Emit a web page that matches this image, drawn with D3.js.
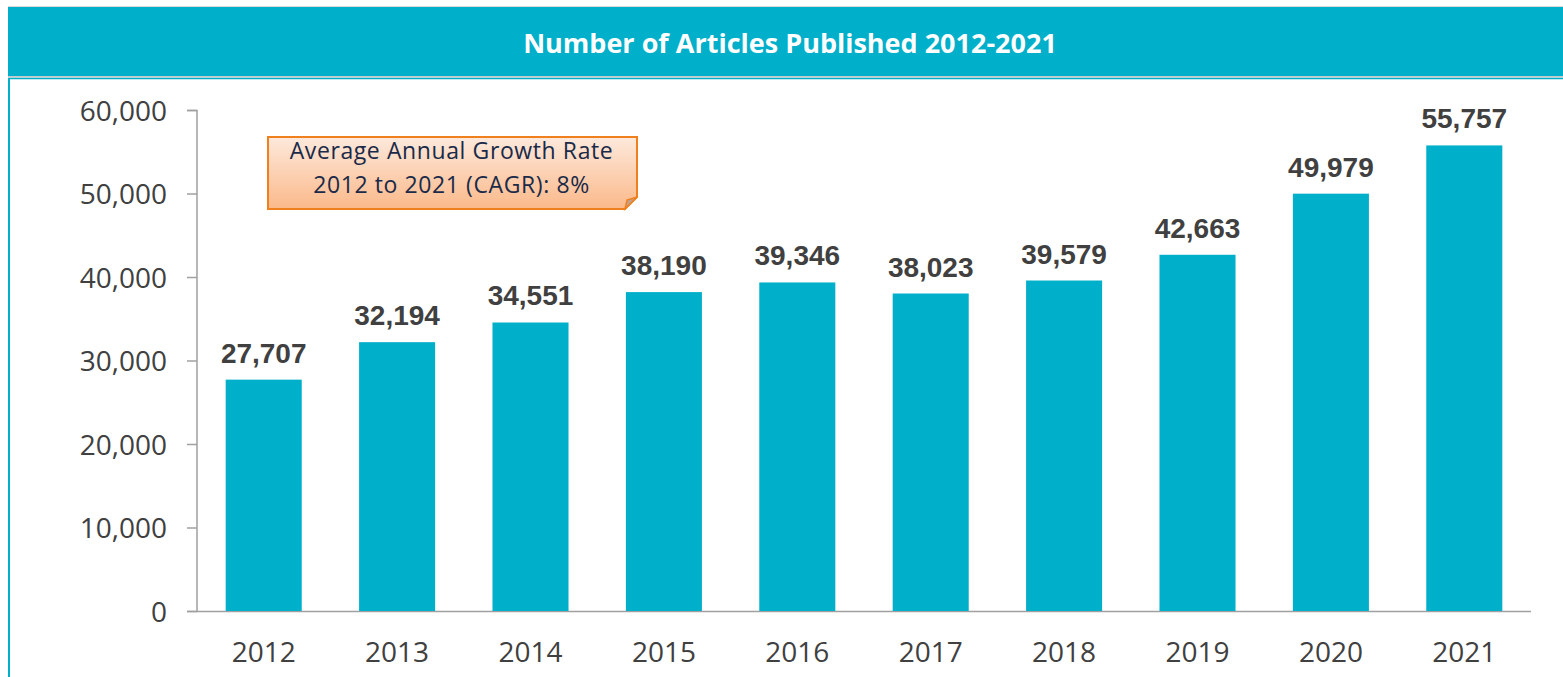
<!DOCTYPE html>
<html>
<head>
<meta charset="utf-8">
<script src="https://cdn.jsdelivr.net/npm/d3@7"></script>
<style>
body{margin:0;background:#fff;}
svg{display:block;}
</style>
</head>
<body>
<div id="chart"></div>
<script>
var years = ["2012","2013","2014","2015","2016","2017","2018","2019","2020","2021"];
var articles = [27707,32194,34551,38190,39346,38023,39579,42663,49979,55757];
var yTicks = [0,10000,20000,30000,40000,50000,60000];
var title = "Number of Articles Published 2012-2021";
var note = ["Average Annual Growth Rate","2012 to 2021 (CAGR): 8%"];

var W = 1563, H = 677;
var teal = "#00afca";
var svg = d3.select("#chart").append("svg").attr("width",W).attr("height",H);

// header band + panel frame
svg.append("rect").attr("x",8).attr("y",6).attr("width",W).attr("height",1.5).attr("fill","#d9d9d9");
svg.append("rect").attr("x",8).attr("y",7).attr("width",W).attr("height",69).attr("fill",teal);
svg.append("rect").attr("x",8).attr("y",76).attr("width",W).attr("height",1.5).attr("fill","#c8c8c8");
svg.append("line").attr("x1",8).attr("x2",W).attr("y1",78.5).attr("y2",78.5).attr("stroke",teal).attr("stroke-width",1.5);
svg.append("line").attr("x1",9).attr("x2",9).attr("y1",78).attr("y2",H).attr("stroke",teal).attr("stroke-width",2);

svg.append("text").attr("x",790).attr("y",53)
  .attr("text-anchor","middle").attr("fill","#fff")
  .style("font","bold 27px 'Open Sans', sans-serif")
  .text(title);

var x = d3.scaleBand().domain(years).range([197,1531]).paddingInner(0.43).paddingOuter(0.215);
var y = d3.scaleLinear().domain([0,60000]).range([611,110]);

var yAxis = svg.append("g").attr("transform","translate(197,0)")
  .call(d3.axisLeft(y).tickValues(yTicks).tickSize(10).tickPadding(20).tickFormat(d3.format(",")));
yAxis.select(".domain").attr("stroke","#a0a0a0").attr("stroke-width",1.5).attr("d","M-10,110.5H0V611.5");
yAxis.selectAll(".tick line").attr("stroke","#a0a0a0").attr("stroke-width",1.5);
yAxis.selectAll("text").attr("fill","#404040").style("font","28px 'Open Sans', sans-serif").attr("dy","0.36em");

var xAxis = svg.append("g").attr("transform","translate(0,611)")
  .call(d3.axisBottom(x).tickSize(0).tickPadding(0));
xAxis.select(".domain").attr("stroke","#a0a0a0").attr("stroke-width",1.5).attr("d","M187,0.5H1531");
xAxis.selectAll("text").attr("fill","#404040").attr("y",51).attr("dy",0)
  .style("font","28px 'Open Sans', sans-serif");

svg.selectAll(".bar").data(articles).enter().append("rect")
  .attr("class","bar")
  .attr("x",(d,i) => x(years[i]))
  .attr("width",x.bandwidth())
  .attr("y",d => y(d))
  .attr("height",d => y(0)-y(d))
  .attr("fill",teal);

svg.selectAll(".val").data(articles).enter().append("text")
  .attr("class","val")
  .attr("x",(d,i) => x(years[i]) + x.bandwidth()/2)
  .attr("y",d => y(d) - 17)
  .attr("text-anchor","middle").attr("fill","#404040")
  .style("font","bold 28px 'Liberation Sans', Arial, sans-serif")
  .text(d => d3.format(",")(d));

// callout box with folded corner
var defs = svg.append("defs");
var gr = defs.append("linearGradient").attr("id","og").attr("x1",0).attr("y1",0).attr("x2",0).attr("y2",1);
gr.append("stop").attr("offset","0%").attr("stop-color","#fde9dc");
gr.append("stop").attr("offset","100%").attr("stop-color","#fbb98a");

var bx = 268, by = 137, bw = 369, bh = 72, f = 12;
svg.append("path")
  .attr("d",`M${bx},${by}H${bx+bw}V${by+bh-f}L${bx+bw-f},${by+bh}H${bx}Z`)
  .attr("fill","url(#og)").attr("stroke","#f0801e").attr("stroke-width",2);
svg.append("path")
  .attr("d",`M${bx+bw},${by+bh-f}L${bx+bw-f+2},${by+bh-f+3}L${bx+bw-f},${by+bh}Z`)
  .attr("fill","#c0a090").attr("stroke","#f0801e").attr("stroke-width",1.5);
svg.selectAll(".note").data(note).enter().append("text")
  .attr("x",bx+bw/2-1).attr("y",(d,i) => by+22+i*34)
  .attr("text-anchor","middle").attr("fill","#1a2a48")
  .style("font","23px 'Open Sans', sans-serif").style("letter-spacing","0.6px")
  .text(d => d);
</script>
</body>
</html>
